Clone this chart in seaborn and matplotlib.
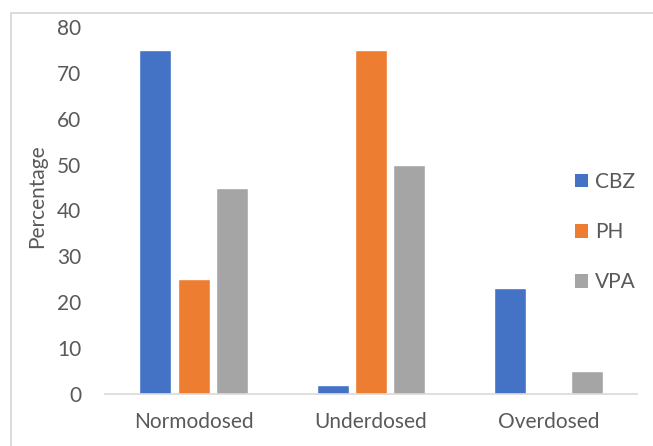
import matplotlib
matplotlib.use("Agg")
import matplotlib.pyplot as plt
from matplotlib.patches import Rectangle, Patch
import seaborn as sns
import pandas as pd

categories = ["Normodosed", "Underdosed", "Overdosed"]
drugs = ["CBZ", "PH", "VPA"]
cbz = [75, 2, 23]
ph = [25, 75, 0]
vpa = [45, 50, 5]
yticks = [0, 10, 20, 30, 40, 50, 60, 70, 80]

colors = {"CBZ": "#4472C4", "PH": "#ED7D31", "VPA": "#A5A5A5"}
text_color = "#595959"
line_color = "#D9D9D9"

df = pd.DataFrame({
    "Dose": categories * 3,
    "Drug": ["CBZ"] * 3 + ["PH"] * 3 + ["VPA"] * 3,
    "Percentage": cbz + ph + vpa,
})

sns.set_theme(style="white")
plt.rcParams["font.family"] = ["Lato", "DejaVu Sans"]
fs = 15

fig = plt.figure(figsize=(6.53, 4.46), dpi=100)
ax = fig.add_axes([105 / 653, 52 / 446, 532 / 653, 367 / 446])

sns.barplot(data=df, x="Dose", y="Percentage", hue="Drug", order=categories,
            hue_order=drugs, palette=colors, width=0.65, gap=0.17,
            saturation=1, ax=ax, legend=False)

ax.set_ylim(0, 80)
ax.set_yticks(yticks)
ax.set_xlim(-0.5, 2.5)
ax.set_xlabel("")
ax.set_ylabel("")
for side in ["top", "right", "left"]:
    ax.spines[side].set_visible(False)
ax.spines["bottom"].set_color(line_color)
ax.spines["bottom"].set_linewidth(1.2)
ax.tick_params(axis="both", length=0, labelsize=fs, labelcolor=text_color)
ax.tick_params(axis="y", pad=17)
ax.tick_params(axis="x", pad=13)
ax.grid(False)

fig.text(37 / 653, 1 - 196 / 446, "Percentage", rotation=90, ha="center",
         va="center", fontsize=fs, color=text_color)

handles = [Patch(facecolor=colors[d], edgecolor="none", label=d) for d in drugs]
fig.legend(handles=handles, loc="center left",
           bbox_to_anchor=(560 / 653, 1 - 232 / 446), frameon=False,
           fontsize=fs, labelcolor=text_color, handlelength=0.65,
           handleheight=0.65, handletextpad=0.35, labelspacing=1.45,
           borderpad=0.2)

# chart area border
fig.patches.append(Rectangle((11 / 653, -0.05), 1.1, 1 - 13 / 446 + 0.05,
                             transform=fig.transFigure, fill=False,
                             edgecolor=line_color, linewidth=1.3, zorder=0))

fig.savefig("out.png", dpi=100)
